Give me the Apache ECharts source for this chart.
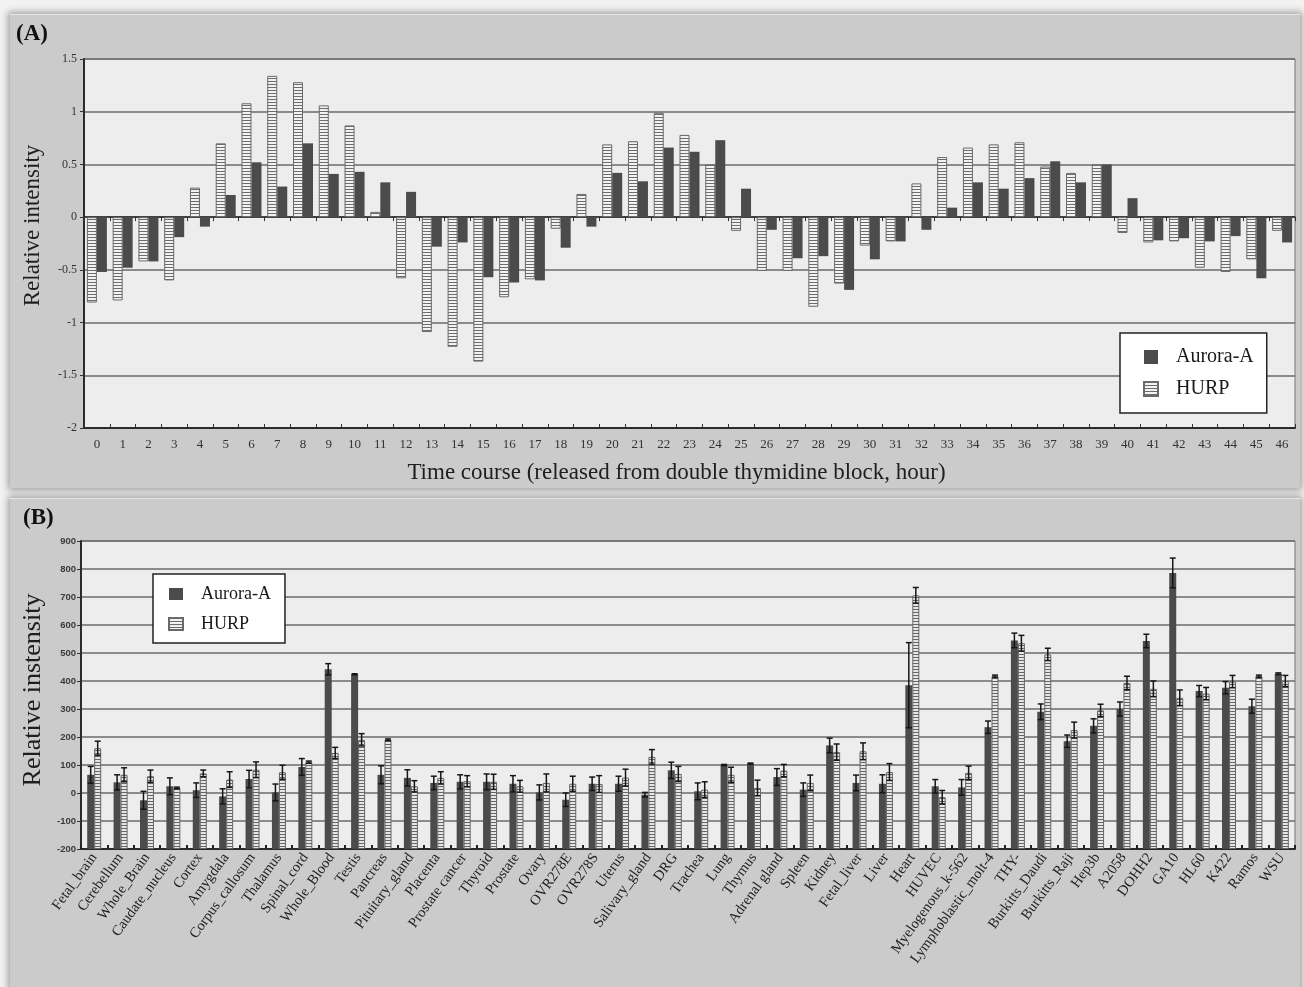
<!DOCTYPE html>
<html>
<head>
<meta charset="utf-8">
<script src="https://cdn.jsdelivr.net/npm/echarts@6/dist/echarts.min.js"></script>
<style>
  html, body { margin: 0; padding: 0; background: #f2f2f2; }
  #wrap { position: relative; width: 1304px; height: 987px; overflow: hidden; }
  .panel { position: absolute; background: #cbcbcb; box-shadow: 0 0 7px 2px rgba(0,0,0,0.35); border-top: 1px solid #e6e6e6; }
  #chart { position: absolute; left: 0; top: 0; width: 1304px; height: 987px; }
</style>
</head>
<body>
<div id="wrap">
  <div class="panel" style="left:10px; top:14px; width:1290px; height:473px;"></div>
  <div class="panel" style="left:10px; top:498px; width:1290px; height:500px;"></div>
  <div id="chart"></div>
</div>
<script>
// (A) time course after release from double thymidine block
const hours = ['0','1','2','3','4','5','6','7','8','9','10','11','12','13','14','15','16','17','18','19','20','21','22','23',
  '24','25','26','27','28','29','30','31','32','33','34','35','36','37','38','39','40','41','42','43','44','45','46'];
const auroraTime = [-0.52,-0.48,-0.42,-0.19,-0.09,0.21,0.52,0.29,0.70,0.41,
  0.43,0.33,0.24,-0.28,-0.24,-0.57,-0.62,-0.60,-0.29,-0.09,
  0.42,0.34,0.66,0.62,0.73,0.27,-0.12,-0.39,-0.37,-0.69,
  -0.40,-0.23,-0.12,0.09,0.33,0.27,0.37,0.53,0.33,0.50,
  0.18,-0.22,-0.20,-0.23,-0.18,-0.58,-0.24];
const hurpTime = [-0.81,-0.79,-0.42,-0.60,0.28,0.70,1.08,1.34,1.28,1.06,
  0.87,0.05,-0.58,-1.09,-1.23,-1.37,-0.76,-0.59,-0.11,0.22,
  0.69,0.72,0.99,0.78,0.50,-0.13,-0.51,-0.51,-0.85,-0.63,
  -0.27,-0.23,0.32,0.57,0.66,0.69,0.71,0.48,0.42,0.50,
  -0.15,-0.24,-0.23,-0.48,-0.52,-0.40,-0.13];

// (B) tissue and cell-line panel, mean and error
const tissues = ['Fetal_brain','Cerebellum','Whole_Brain','Caudate_nucleus','Cortex','Amygdala','Corpus_callosum','Thalamus',
  'Spinal_cord','Whole_Blood','Testis','Pancreas','Pituitary_gland','Placenta','Prostate cancer','Thyroid','Prostate','Ovary',
  'OVR278E','OVR278S','Uterus','Salivary_gland','DRG','Trachea','Lung','Thymus','Adrenal gland','Spleen','Kidney','Fetal_liver',
  'Liver','Heart','HUVEC','Myelogenous_k-562','Lymphoblastic_molt-4','THY-','Burkitts_Daudi','Burkitts_Raji','Hep3b','A2058',
  'DOHH2','GA10','HL60','K422','Ramos','WSU'];
const auroraTissue = [65,38,-26,24,10,-12,50,2,93,442,
  424,65,54,36,40,40,33,2,-24,33,
  33,-6,81,6,100,105,57,12,170,36,
  33,385,24,20,235,545,290,185,240,300,
  543,786,364,376,310,426];
const auroraErr = [30,27,32,30,26,27,31,30,30,20,
  2,32,29,24,25,28,29,27,24,24,
  27,8,29,30,2,2,30,24,26,28,
  32,152,24,28,22,26,28,22,25,25,
  24,53,20,22,25,3];
const hurpTissue = [160,65,60,18,70,48,83,74,110,143,
  190,190,24,54,42,40,24,36,33,32,
  55,129,68,12,65,18,80,36,146,149,
  75,706,-15,72,417,535,495,225,295,393,
  372,340,355,398,417,400];
const hurpErr = [25,25,22,3,12,28,28,25,4,20,
  22,3,20,22,20,27,21,32,27,30,
  30,26,27,28,27,28,22,28,29,30,
  30,28,24,24,4,28,22,28,22,24,
  28,28,22,22,4,20];

// axis range of panel B; its bars rise from the bottom of the axis
const B_MIN = -200, B_MAX = 900;

// horizontal hatching used for the HURP bars
function hatch(light, dark) {
  const c = document.createElement('canvas');
  c.width = 4; c.height = 3;
  const g = c.getContext('2d');
  g.fillStyle = light; g.fillRect(0, 0, 4, 3);
  g.fillStyle = dark; g.fillRect(0, 0, 4, 1);
  return c;
}
const hatchA = { image: hatch('#f2f2f2', '#6c6c6c'), repeat: 'repeat' };
const hatchB = { image: hatch('#e6e6e6', '#666666'), repeat: 'repeat' };
const DARK = '#4b4b4b';
const SERIF = 'Liberation Serif';
const BW_B = 7;

function errorBars(offset) {
  return function (params, api) {
    const i = api.value(0), m = api.value(1), e = api.value(2);
    const x = api.coord([i, m])[0] + offset;
    const yTop = api.coord([i, m + e])[1];
    const yBot = api.coord([i, m - e])[1];
    const st = { stroke: '#161616', lineWidth: 1.5 };
    return {
      type: 'group',
      children: [
        { type: 'line', shape: { x1: x, y1: yTop, x2: x, y2: yBot }, style: st },
        { type: 'line', shape: { x1: x - 3, y1: yTop, x2: x + 3, y2: yTop }, style: st },
        { type: 'line', shape: { x1: x - 3, y1: yBot, x2: x + 3, y2: yBot }, style: st }
      ]
    };
  };
}

const gridLine = { show: true, lineStyle: { color: '#6a6a6a', width: 1.5 } };
const axisDark = { show: true, lineStyle: { color: '#2a2a2a', width: 2 } };
const baseB = tissues.map(() => B_MIN);

const chart = echarts.init(document.getElementById('chart'), null, { renderer: 'canvas' });
chart.setOption({
  animation: false,
  backgroundColor: 'transparent',
  title: [
    { text: '(A)', left: 16, top: 23, padding: 0, textStyle: { fontFamily: SERIF, fontWeight: 'bold', fontSize: 23, color: '#111' } },
    { text: '(B)', left: 23, top: 507, padding: 0, textStyle: { fontFamily: SERIF, fontWeight: 'bold', fontSize: 23, color: '#111' } }
  ],
  legend: [
    { orient: 'vertical', left: 1120, top: 333, data: ['Aurora-A', 'HURP'], selectedMode: false,
      backgroundColor: '#ffffff', borderColor: '#222', borderWidth: 1.5, padding: [14, 13, 14, 23], itemGap: 12,
      itemWidth: 14, itemHeight: 14, icon: 'rect',
      textStyle: { fontFamily: SERIF, fontSize: 20, color: '#1a1a1a', padding: [0, 0, 0, 13] } },
    { orient: 'vertical', left: 153, top: 574, data: ['Aurora-A', 'HURP'], selectedMode: false,
      backgroundColor: '#ffffff', borderColor: '#222', borderWidth: 1.5, padding: [11, 14, 10, 15], itemGap: 12,
      itemWidth: 14, itemHeight: 12, icon: 'rect',
      textStyle: { fontFamily: SERIF, fontSize: 18, color: '#1a1a1a', padding: [0, 0, 0, 13] } }
  ],
  grid: [
    { left: 84, top: 59, width: 1211, height: 369, show: true, backgroundColor: '#ededed', borderColor: '#777', borderWidth: 1 },
    { left: 81, top: 541, width: 1214, height: 308, show: true, backgroundColor: '#ededed', borderColor: '#777', borderWidth: 1 }
  ],
  xAxis: [
    { type: 'category', gridIndex: 0, data: hours, boundaryGap: true,
      axisLine: { show: true, onZero: true, lineStyle: { color: '#2a2a2a', width: 1.5 } },
      axisTick: { show: true, length: 4, interval: 0, lineStyle: { color: '#333' } },
      axisLabel: { show: false } },
    // frame line at the foot of panel A, carrying the hour labels
    { type: 'category', gridIndex: 0, data: hours, boundaryGap: true, position: 'bottom',
      axisLine: { show: true, onZero: false, lineStyle: { color: '#2a2a2a', width: 2 } },
      axisTick: { show: true, inside: true, length: 4, interval: 0, lineStyle: { color: '#333' } },
      axisLabel: { interval: 0, margin: 10, fontFamily: SERIF, fontSize: 13, color: '#333' },
      name: 'Time course (released from double thymidine block, hour)', nameLocation: 'middle', nameGap: 33,
      nameTextStyle: { fontFamily: SERIF, fontSize: 23, color: '#1e1e1e', padding: [0, 26, 0, 0] } },
    { type: 'category', gridIndex: 1, data: tissues, boundaryGap: true,
      axisLine: { show: true, onZero: false, lineStyle: { color: '#2a2a2a', width: 2 } },
      axisTick: { show: true, inside: true, length: 4, interval: 0, lineStyle: { color: '#222', width: 2 } },
      axisLabel: { interval: 0, rotate: 54, margin: 6, fontFamily: SERIF, fontSize: 14.5, color: '#222' } }
  ],
  yAxis: [
    { type: 'value', gridIndex: 0, min: -2, max: 1.5, interval: 0.5,
      axisLine: axisDark, axisTick: { show: true, length: 4, lineStyle: { color: '#333' } }, splitLine: gridLine,
      axisLabel: { margin: 7, fontFamily: SERIF, fontSize: 12, color: '#333' },
      name: 'Relative intensity', nameLocation: 'middle', nameGap: 40, nameRotate: 90,
      nameTextStyle: { fontFamily: SERIF, fontSize: 23, color: '#1e1e1e', padding: [0, 0, 0, 36] } },
    { type: 'value', gridIndex: 1, min: B_MIN, max: B_MAX, interval: 100,
      axisLine: axisDark, axisTick: { show: true, length: 4, lineStyle: { color: '#333' } }, splitLine: gridLine,
      axisLabel: { margin: 5, fontFamily: 'Liberation Sans', fontWeight: 'bold', fontSize: 9.5, color: '#3a3a3a' },
      name: 'Relative instensity', nameLocation: 'middle', nameGap: 35, nameRotate: 90,
      nameTextStyle: { fontFamily: SERIF, fontSize: 26, color: '#1e1e1e', padding: [0, 0, 0, 10] } }
  ],
  series: [
    { name: 'HURP', type: 'bar', xAxisIndex: 0, yAxisIndex: 0, data: hurpTime, barWidth: 10, barGap: '0%',
      itemStyle: { color: hatchA, borderColor: '#6a6a6a', borderWidth: 1 } },
    { name: 'Aurora-A', type: 'bar', xAxisIndex: 0, yAxisIndex: 0, data: auroraTime, barWidth: 10, barGap: '0%',
      itemStyle: { color: DARK } },

    // panel B: an invisible base down to the axis floor, then each value stacked on it
    { name: 'floorA', type: 'bar', xAxisIndex: 2, yAxisIndex: 1, stack: 'aur', stackStrategy: 'all',
      data: baseB, barWidth: BW_B, barGap: '0%', itemStyle: { color: 'rgba(0,0,0,0)' }, silent: true },
    { name: 'Aurora-A', type: 'bar', xAxisIndex: 2, yAxisIndex: 1, stack: 'aur', stackStrategy: 'all',
      data: auroraTissue.map(v => v - B_MIN), barWidth: BW_B, barGap: '0%',
      itemStyle: { color: DARK } },
    { name: 'floorH', type: 'bar', xAxisIndex: 2, yAxisIndex: 1, stack: 'hur', stackStrategy: 'all',
      data: baseB, barWidth: BW_B, barGap: '0%', itemStyle: { color: 'rgba(0,0,0,0)' }, silent: true },
    { name: 'HURP', type: 'bar', xAxisIndex: 2, yAxisIndex: 1, stack: 'hur', stackStrategy: 'all',
      data: hurpTissue.map(v => v - B_MIN), barWidth: BW_B, barGap: '0%',
      itemStyle: { color: hatchB, borderColor: '#666', borderWidth: 1 } },

    { name: 'Aurora-A error', type: 'custom', xAxisIndex: 2, yAxisIndex: 1, z: 5,
      renderItem: errorBars(-BW_B / 2), encode: { x: 0, y: 1 },
      data: auroraTissue.map((v, i) => [i, v, auroraErr[i]]) },
    { name: 'HURP error', type: 'custom', xAxisIndex: 2, yAxisIndex: 1, z: 5,
      renderItem: errorBars(BW_B / 2), encode: { x: 0, y: 1 },
      data: hurpTissue.map((v, i) => [i, v, hurpErr[i]]) }
  ]
});
</script>
</body>
</html>
